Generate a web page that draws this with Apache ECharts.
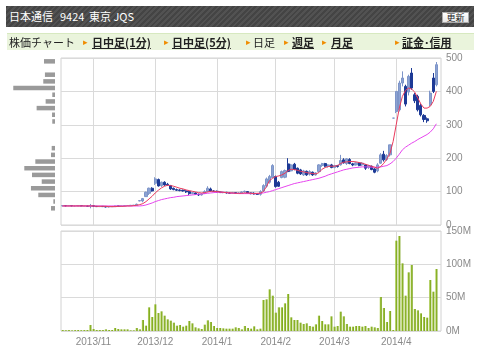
<!DOCTYPE html>
<html><head><meta charset="utf-8">
<script src="https://cdn.jsdelivr.net/npm/echarts@6/dist/echarts.min.js"></script>
<style>
body{margin:0;background:#fff;font-family:"Noto Sans CJK JP",sans-serif;}
#c{position:absolute;left:0;top:0;width:480px;height:357px;}
#hdr{position:absolute;left:6px;top:6px;width:468px;height:21px;background:repeating-linear-gradient(135deg,#444 0,#444 2px,#525252 2px,#525252 4px);color:#fff;font-size:11px;line-height:21px;}
#hdr span{position:absolute;top:0;}
#btn{position:absolute;left:436px;top:6px;width:25px;height:9px;background:linear-gradient(#fff,#e8e8e8);border:1px solid #aaa;color:#222;font-size:9px;line-height:9px;text-align:center;}
#nav{position:absolute;left:7px;top:33px;width:467px;height:16px;background:#eaf4dc;border-top:1px solid #d7e9c0;font-size:11px;line-height:16px;color:#222;}
#nav span{position:absolute;top:0;white-space:nowrap;}
#nav .a{color:#f08c00;font-size:9px;}
#nav .l{font-weight:bold;text-decoration:underline;}
</style></head>
<body>
<div id="c"></div>
<div id="hdr"><span style="left:3px">日本通信</span><span style="left:54px">9424</span><span style="left:83px">東京 JQS</span><div id="btn">更新</div></div>
<div id="nav">
<span style="left:2px">株価チャート</span>
<span class="a" style="left:76px">▸</span><span class="l" style="left:85px">日中足(1分)</span>
<span class="a" style="left:157px">▸</span><span class="l" style="left:165px">日中足(5分)</span>
<span class="a" style="left:239px">▸</span><span style="left:246px">日足</span>
<span class="a" style="left:277px">▸</span><span class="l" style="left:285px">週足</span>
<span class="a" style="left:315px">▸</span><span class="l" style="left:324px">月足</span>
<span class="a" style="left:388px">▸</span><span class="l" style="left:395px">証金･信用</span>
</div>
<script>
const dates = ['2013/10/18','2013/10/21','2013/10/22','2013/10/23','2013/10/24','2013/10/25','2013/10/28','2013/10/29','2013/10/30','2013/10/31',
'2013/11/01','2013/11/05','2013/11/06','2013/11/07','2013/11/08','2013/11/11','2013/11/12','2013/11/13','2013/11/14','2013/11/15',
'2013/11/18','2013/11/19','2013/11/20','2013/11/21','2013/11/22','2013/11/25','2013/11/26','2013/11/27','2013/11/28','2013/11/29',
'2013/12/02','2013/12/03','2013/12/04','2013/12/05','2013/12/06','2013/12/09','2013/12/10','2013/12/11','2013/12/12','2013/12/13',
'2013/12/16','2013/12/17','2013/12/18','2013/12/19','2013/12/20','2013/12/24','2013/12/25','2013/12/26','2013/12/27','2013/12/30',
'2014/01/06','2014/01/07','2014/01/08','2014/01/09','2014/01/10','2014/01/14','2014/01/15','2014/01/16','2014/01/17','2014/01/20',
'2014/01/21','2014/01/22','2014/01/23','2014/01/24','2014/01/27','2014/01/28','2014/01/29','2014/01/30','2014/01/31',
'2014/02/03','2014/02/04','2014/02/05','2014/02/06','2014/02/07','2014/02/10','2014/02/12','2014/02/13','2014/02/14','2014/02/17',
'2014/02/18','2014/02/19','2014/02/20','2014/02/21','2014/02/24','2014/02/25','2014/02/26','2014/02/27','2014/02/28',
'2014/03/03','2014/03/04','2014/03/05','2014/03/06','2014/03/07','2014/03/10','2014/03/11','2014/03/12','2014/03/13','2014/03/14',
'2014/03/17','2014/03/18','2014/03/19','2014/03/20','2014/03/24','2014/03/25','2014/03/26','2014/03/27','2014/03/28','2014/03/31',
'2014/04/01','2014/04/02','2014/04/03','2014/04/04','2014/04/07','2014/04/08','2014/04/09','2014/04/10','2014/04/11','2014/04/14',
'2014/04/15','2014/04/16','2014/04/17','2014/04/18'];

const open = [57,58,57,58,57,57,58,57,57,56, 58,56,55,56,55,54,55,55,57,56, 57,58,58,59,59,72,72,85,95,110,
125,136,118,128,122,118,110,106,105,104, 102,100,94,96,92,90,94,100,108,102,
101,99,97,98,96,95,97,95,96,99, 100,96,95,93,92,102,116,128,142,
145,128,142,143,183,162,182,170,165,150, 161,152,158,150,160,178,184,176,180,
172,178,180,195,184,196,183,180,186,180, 180,172,176,168,162,185,212,196,210,320,
340,345,425,415,398,455,390,385,358,328, 318,360,440,420];
const close = [58,57,58,57,57,58,57,57,56,58, 56,55,56,55,54,55,55,57,56,57, 58,58,59,59,62,73,79,98,110,102,
138,117,128,120,120,108,106,104,103,102, 99,94,97,92,90,93,100,110,102,101,
99,97,98,96,95,97,95,96,99,101, 96,94,93,92,100,118,138,145,178,
115,116,160,163,160,180,166,155,153,162, 150,160,150,156,180,184,176,180,172,
178,175,193,186,198,184,180,186,178,185, 170,178,166,158,180,210,195,208,240,320,
400,425,440,362,445,410,372,345,330,316, 312,395,400,480];
const low = [56,56,57,56,56,57,56,56,55,50, 54,54,54,54,53,53,54,54,55,55, 56,57,57,58,58,71,68,84,90,100,
120,115,114,117,118,105,104,102,101,100, 96,90,92,90,87,88,93,98,100,99,
97,96,95,94,93,94,94,93,95,97, 95,92,91,90,88,100,112,124,140,
112,114,140,140,158,160,164,152,150,147, 147,148,147,148,158,174,173,172,170,
170,172,178,184,180,182,176,178,176,177, 165,168,164,155,158,183,190,192,205,320,
335,340,415,355,388,405,365,340,325,308, 306,355,395,415];
const high = [59,58,59,58,58,59,58,58,58,63, 59,57,57,56,57,56,56,58,58,58, 59,59,60,60,64,74,81,100,112,113,
143,139,130,131,126,120,112,109,107,106, 104,102,99,98,94,95,104,116,112,104,
103,101,100,99,98,99,98,98,101,103, 101,97,98,95,104,122,142,150,182,
148,132,163,166,200,183,186,172,168,165, 163,164,160,158,182,186,186,182,183,
180,180,210,200,200,200,186,188,188,188, 182,180,178,170,185,215,222,212,240,320,
400,432,460,420,450,470,395,390,362,332, 322,402,455,488];

const volume = [1.5,1.2,1.5,1.0,1.3,1.5,1.2,1.4,1.5,9, 3,1.5,1.5,1.5,2.5,1.5,1.5,4.5,3,2.5,
2.5,2.5,1,1,4.5,2.5,16.5,8,35.5,21, 40,27,29.5,23,17.5,15.5,12.5,8,9,6.5,
8,15,11.5,5.5,4,3,9.5,16,13.5,7.5, 4.5,4.5,4,3.5,3.5,3.5,5.5,4.5,2.5,7.5,
4.5,3.5,7,2.5,3.5,46.5,47.5,62.5,53, 27.5,35.5,35.5,41.5,55.5,20.5,16.5,16.5,12.5,10.5,
11.5,7.5,6.5,10,23,15,10,10,22, 6.5,7.5,29,22,10.5,6.5,6.5,7.5,7.5,6.5,
7.5,4.5,6.5,5.5,4.5,51,34.5,13.5,30,1.5, 135.5,142.5,101.5,53,88,99,33,31,26.5,21,
20,76.5,59,93];

const maShort = [57,57,57,57,57,57,57,57,57,57, 57,56,56,56,56,55,55,55,56,56, 56,57,57,58,59,61,64,70,78,86,
96,104,111,116,119,118,116,113,110,108, 105,103,101,99,97,96,97,99,101,101,
100,99,98,97,96,96,95,95,95,96, 96,95,94,95,95,100,115,133,140,
145,147,150,155,163,167,166,164,161,159, 157,155,154,153,157,167,172,175,176,
176,178,184,188,189,190,190,189,187,185, 182,179,176,173,170,175,185,198,215,250,
300,350,385,403,410,407,398,380,362,350, 350,355,370,400];
const maLong = [57,57,57,57,57,57,57,57,57,57, 57,57,57,57,57,57,57,57,57,57, 57,57,57,57,57,57,58,60,63,66,
70,73,76,78,80,82,83,85,86,87, 88,89,90,91,92,93,94,95,96,97,
98,98,98,97,96,95,95,94,94,94, 94,94,94,94,95,96,98,100,103,
106,109,112,115,118,121,124,126,128,130, 132,134,136,138,140,143,146,150,153,
156,159,162,165,167,169,171,172,173,174, 174,174,173,173,173,174,176,178,183,190,
200,212,225,233,239,245,250,256,261,266, 271,278,288,303];

const monthStarts = ['2013/11/01','2013/12/02','2014/01/06','2014/02/03','2014/03/03','2014/04/01'];
const monthLabels = ['2013/11','2013/12','2014/1','2014/2','2014/3','2014/4'];
const priceTicks = [0,100,200,300,400,500];
const volumeTicks = [0,50,100,150];

const histPrice = [490,450,430,410,390,370,350,330,310,230,210,190,170,150,130,110,90,70,50];
const histVolume = [93,85,99,352,23,79,155,25,23,28,34,166,259,194,112,203,141,14,34];

const bucketLabels = [];
for (let p = 0; p < 500; p += 20) bucketLabels.push(String(p));
const histData = bucketLabels.map(function (lb) {
  const k = histPrice.indexOf(Number(lb) + 10);
  return k >= 0 ? histVolume[k] : 0;
});

const xData = dates.concat(['']);
const monthIdx = monthStarts.map(d => dates.indexOf(d));
const isMonth = i => monthIdx.indexOf(i) >= 0;
const candleData = dates.map((d, i) => [open[i], close[i], low[i], high[i]]);
const gridColor = '#dadada';
const labelStyle = {color: '#8a8a8a', fontSize: 10, fontFamily: 'Liberation Sans'};

const chart = echarts.init(document.getElementById('c'));
chart.setOption({
  animation: false,
  grid: [
    {left: 61, top: 58, width: 380, height: 167, show: true, borderColor: '#d2d2d2', borderWidth: 1},
    {left: 61, top: 231, width: 380, height: 100, show: true, borderColor: '#d2d2d2', borderWidth: 1},
    {left: 0, top: 58, width: 55, height: 167}
  ],
  xAxis: [
    {type: 'category', gridIndex: 0, data: xData, axisLine: {show: false}, axisTick: {show: false}, axisLabel: {show: false},
     splitLine: {show: true, interval: (i) => isMonth(i), alignWithLabel: true, lineStyle: {color: gridColor}}},
    {type: 'category', gridIndex: 1, data: xData, axisLine: {show: false}, axisTick: {show: false},
     axisLabel: Object.assign({show: true, interval: (i) => isMonth(i), margin: 6,
       formatter: (v, i) => monthLabels[monthIdx.indexOf(i)] || ''}, labelStyle),
     splitLine: {show: true, interval: (i) => isMonth(i), alignWithLabel: true, lineStyle: {color: gridColor}}},
    {type: 'value', gridIndex: 2, inverse: true, min: 0, max: 464, show: false}
  ],
  yAxis: [
    {type: 'value', gridIndex: 0, position: 'right', min: priceTicks[0], max: priceTicks[priceTicks.length - 1], interval: 100,
     axisLine: {show: false}, axisTick: {show: false}, axisLabel: Object.assign({margin: 5}, labelStyle),
     splitLine: {lineStyle: {color: gridColor}}},
    {type: 'value', gridIndex: 1, position: 'right', min: volumeTicks[0], max: volumeTicks[volumeTicks.length - 1], interval: 50,
     axisLine: {show: false}, axisTick: {show: false}, axisLabel: Object.assign({margin: 5, formatter: '{value}M'}, labelStyle),
     splitLine: {lineStyle: {color: gridColor}}},
    {type: 'category', gridIndex: 2, data: bucketLabels, show: false}
  ],
  series: [
    {type: 'candlestick', xAxisIndex: 0, yAxisIndex: 0, data: candleData, barWidth: 2.6,
     itemStyle: {color: '#8ca2d2', borderColor: '#7d95c9', color0: '#1d3a96', borderColor0: '#1d3a96', borderWidth: 1}},
    {type: 'line', xAxisIndex: 0, yAxisIndex: 0, data: maLong, showSymbol: false, lineStyle: {color: '#e645ee', width: 1}},
    {type: 'line', xAxisIndex: 0, yAxisIndex: 0, data: maShort, showSymbol: false, lineStyle: {color: '#ea3a5c', width: 1}},
    {type: 'bar', xAxisIndex: 1, yAxisIndex: 1, data: volume, barWidth: 2.2,
     itemStyle: {color: new echarts.graphic.LinearGradient(0, 0, 1, 0, [{offset: 0, color: '#c4dc7c'}, {offset: 0.45, color: '#8db52a'}, {offset: 1, color: '#7aa21c'}])}},
    {type: 'bar', xAxisIndex: 2, yAxisIndex: 2, data: histData, barWidth: 4.5, itemStyle: {color: '#9a9a9a'}}
  ]
});
</script>
</body></html>
